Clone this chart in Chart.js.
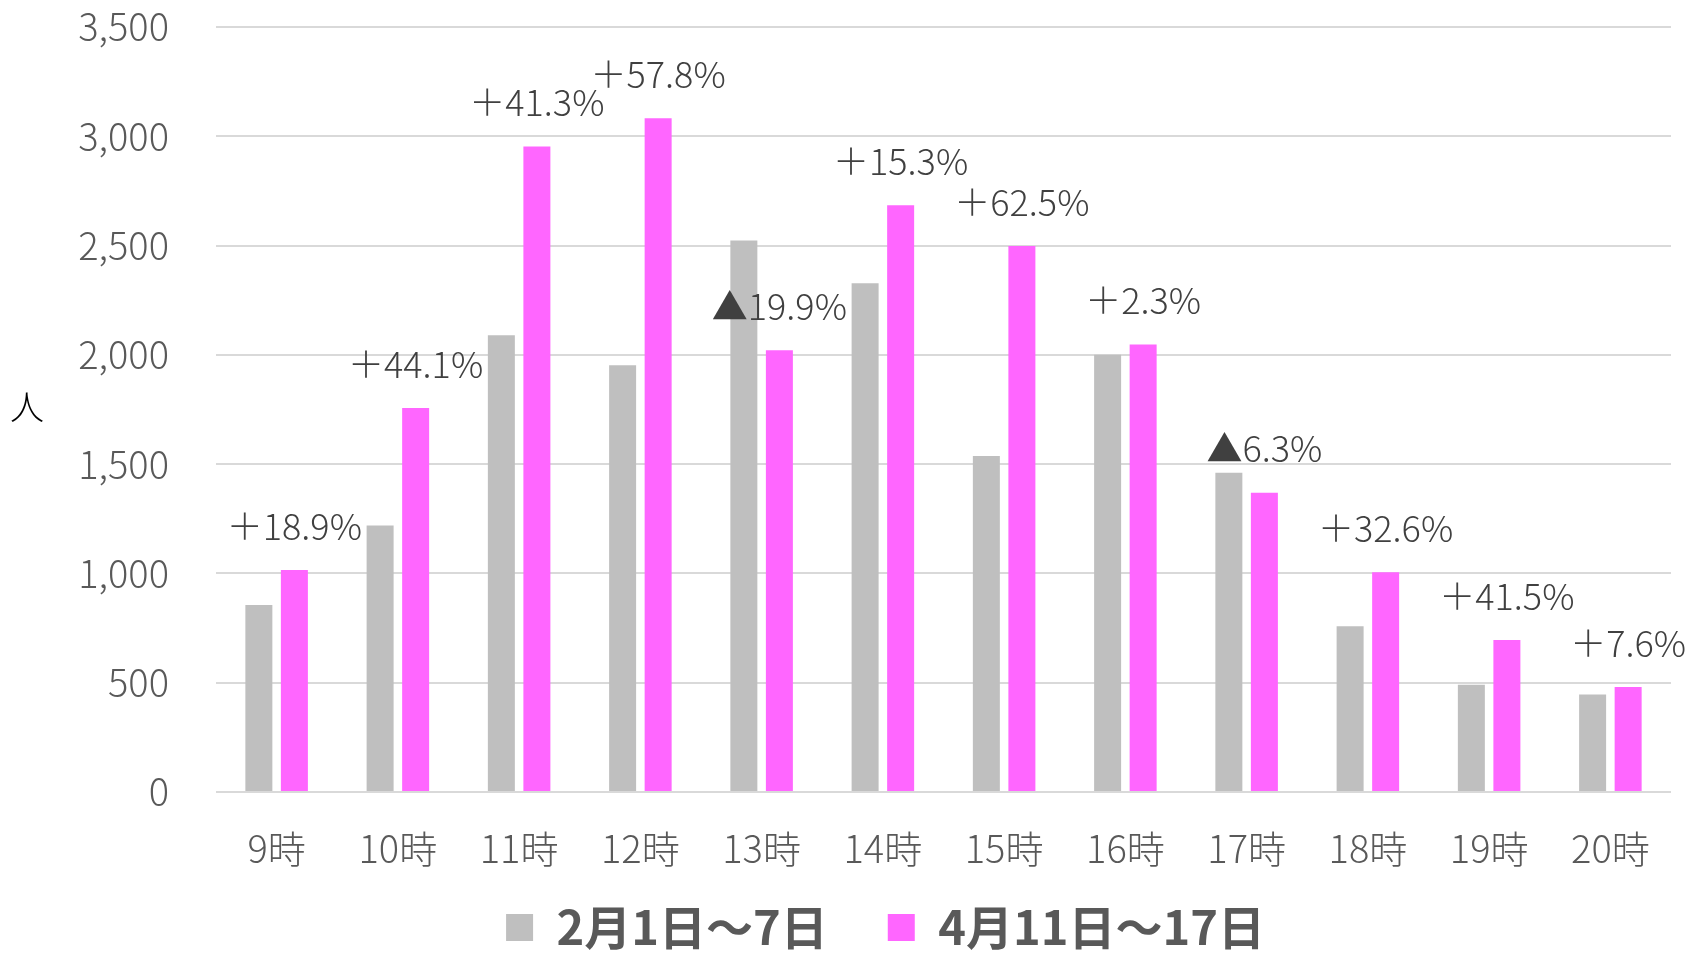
<!DOCTYPE html>
<html lang="ja">
<head>
<meta charset="utf-8">
<title>時間帯別 人数</title>
<script src="https://cdn.jsdelivr.net/npm/chart.js@4/dist/chart.umd.min.js"></script>
<style>
  html, body { margin: 0; padding: 0; background: #fff; }
  #wrap { width: 1688px; height: 953px; position: relative; }
</style>
</head>
<body>
<div id="wrap"><canvas id="chart"></canvas></div>
<script>
// Data
const hours = ['9時', '10時', '11時', '12時', '13時', '14時', '15時', '16時', '17時', '18時', '19時', '20時'];
const febCounts = [855, 1219, 2090, 1953, 2523, 2328, 1537, 2001, 1461, 758, 491, 446];
const aprCounts = [1016, 1757, 2953, 3082, 2021, 2684, 2498, 2047, 1369, 1005, 695, 480];
const changeLabels = ['＋18.9%', '＋44.1%', '＋41.3%', '＋57.8%', '▲19.9%', '＋15.3%',
                      '＋62.5%', '＋2.3%', '▲6.3%', '＋32.6%', '＋41.5%', '＋7.6%'];
const seriesNames = ['2月1日～7日', '4月11日～17日'];
const yMax = 3500;
const yStep = 500;

const FONT = '"Noto Sans CJK JP", "Noto Sans", sans-serif';
Chart.defaults.font.family = FONT;

// Percent change labels above the April bars
const changeLabelPlugin = {
  id: 'changeLabels',
  afterDatasetsDraw(chart) {
    const ctx = chart.ctx;
    const meta = chart.getDatasetMeta(1);
    ctx.save();
    ctx.font = '300 36px ' + FONT;
    ctx.fillStyle = '#404040';
    ctx.textAlign = 'center';
    ctx.textBaseline = 'middle';
    meta.data.forEach((bar, i) => {
      ctx.fillText(changeLabels[i], bar.x, bar.y - 44);
    });
    ctx.restore();
  }
};

// Unit label on the left, kept upright
const unitPlugin = {
  id: 'unitLabel',
  afterDraw(chart) {
    const ctx = chart.ctx;
    ctx.save();
    ctx.font = '300 34px ' + FONT;
    ctx.fillStyle = '#000';
    ctx.textAlign = 'center';
    ctx.textBaseline = 'middle';
    ctx.fillText('人', 27, 407);
    ctx.restore();
  }
};

// Nudge the legend right and up like the original
const legendShiftPlugin = {
  id: 'legendShift',
  afterLayout(chart) {
    const lg = chart.legend;
    lg.left += 50;
    lg.right += 50;
    lg.top -= 28;
  }
};

new Chart(document.getElementById('chart'), {
  type: 'bar',
  data: {
    labels: hours,
    datasets: [
      { label: seriesNames[0], data: febCounts, backgroundColor: '#bfbfbf' },
      { label: seriesNames[1], data: aprCounts, backgroundColor: '#ff66ff' }
    ]
  },
  options: {
    responsive: true,
    maintainAspectRatio: false,
    animation: false,
    datasets: { bar: { categoryPercentage: 0.586, barPercentage: 0.76 } },
    layout: { padding: { top: 27, right: 17, bottom: 0, left: 0 } },
    plugins: {
      tooltip: { enabled: false },
      legend: {
        position: 'bottom',
        maxHeight: 81,
        labels: {
          boxWidth: 27,
          boxHeight: 27,
          padding: 60,
          color: '#595959',
          font: { size: 47, weight: 'bold' }
        }
      }
    },
    scales: {
      x: {
        afterFit(scale) { scale.height = 80; },
        grid: { display: false, drawTicks: false },
        border: { display: false },
        ticks: { color: '#595959', padding: 34, font: { size: 38, weight: 300 } }
      },
      y: {
        min: 0,
        max: yMax,
        afterFit(scale) { scale.width = 216; },
        border: { display: false },
        grid: { color: '#d9d9d9', lineWidth: 2, tickLength: 47, tickColor: 'rgba(0,0,0,0)' },
        ticks: {
          stepSize: yStep,
          padding: 0,
          color: '#595959',
          font: { size: 38, weight: 300 },
          callback: v => v.toLocaleString('en-US')
        }
      }
    }
  },
  plugins: [changeLabelPlugin, unitPlugin, legendShiftPlugin]
});
</script>
</body>
</html>
